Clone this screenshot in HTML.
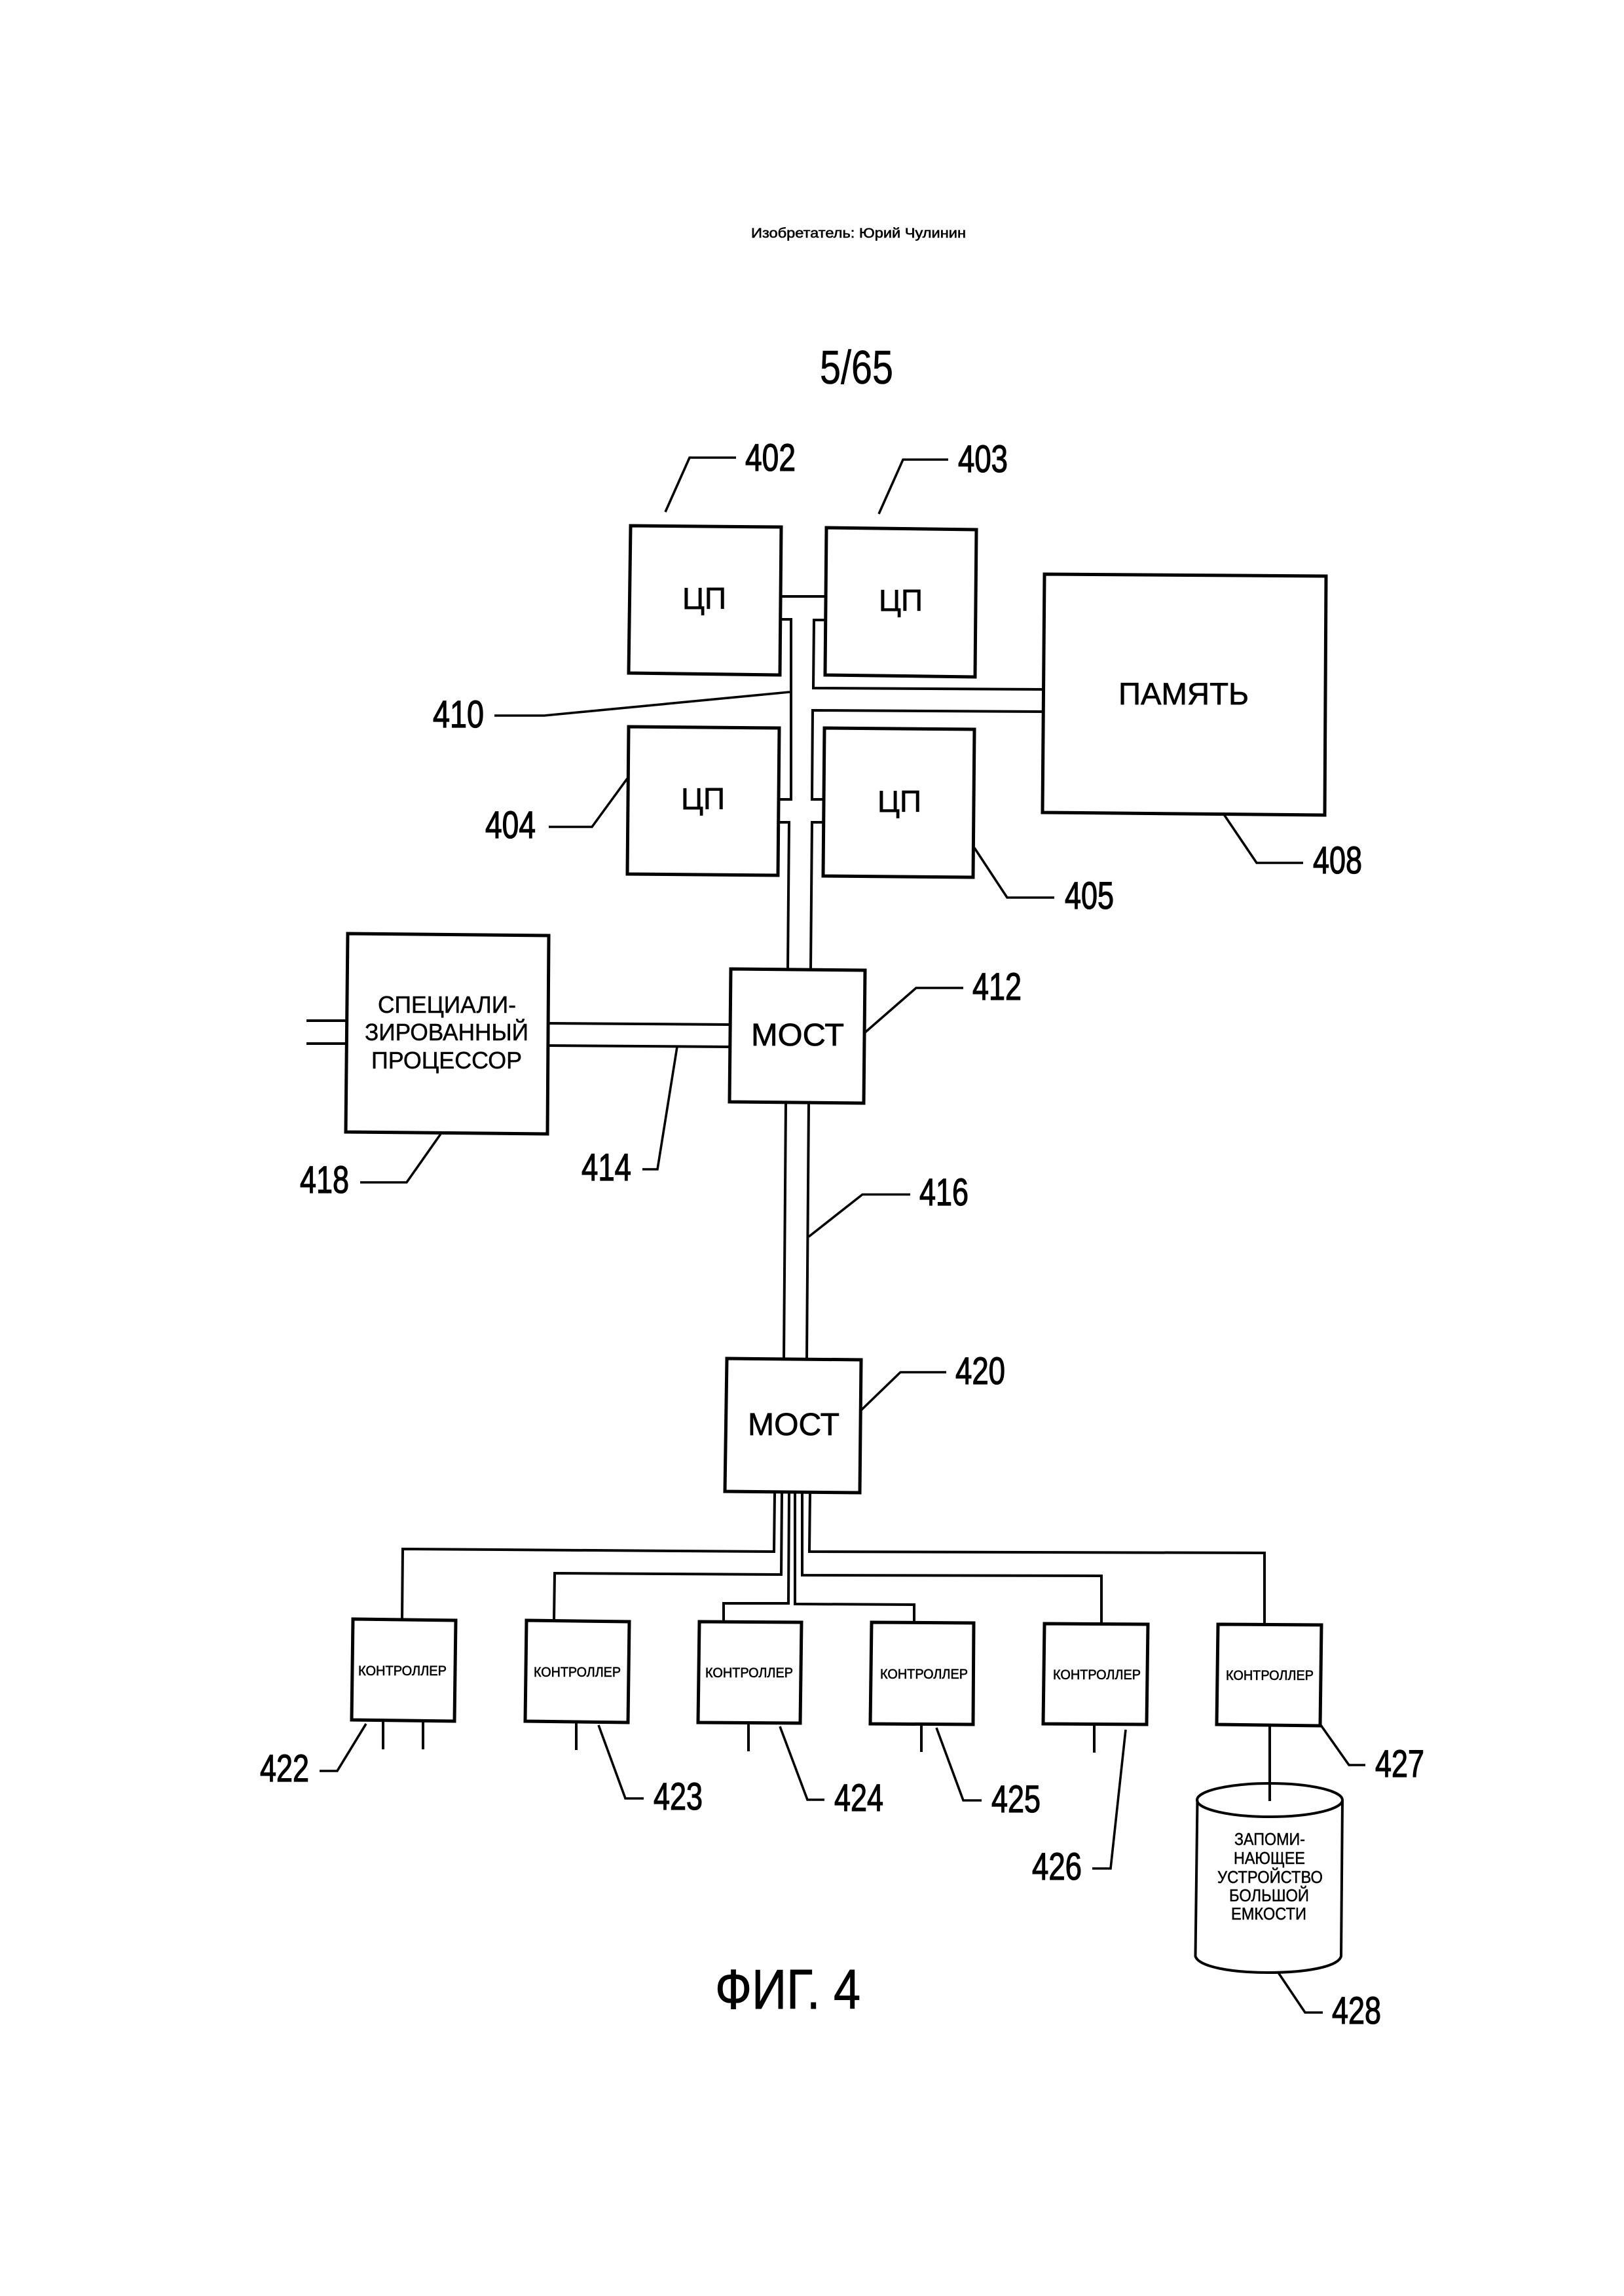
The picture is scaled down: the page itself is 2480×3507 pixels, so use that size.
<!DOCTYPE html>
<html><head><meta charset="utf-8"><style>
html,body{margin:0;padding:0;background:#fff}
svg{display:block}
text{font-family:"Liberation Sans",sans-serif;fill:#000;stroke:#000;stroke-width:.7}
.b{fill:none;stroke:#000;stroke-width:5;stroke-linejoin:miter}
.w{fill:none;stroke:#000;stroke-width:4;stroke-linejoin:miter}
.l{fill:none;stroke:#000;stroke-width:3.6}
.n{font-size:58px;stroke-width:1.3}
.c{font-size:21.5px;stroke-width:.6}
.d{font-size:25.5px;stroke-width:.5}
.s{font-size:36px;stroke-width:.5}
</style></head><body>
<svg width="2480" height="3507" viewBox="0 0 2480 3507" xmlns="http://www.w3.org/2000/svg">
<rect width="2480" height="3507" fill="#fff"/>
<text x="1147" y="363" font-size="21" textLength="328" lengthAdjust="spacingAndGlyphs" style="stroke-width:.6">Изобретатель: Юрий Чулинин</text>
<text x="1252" y="586" font-size="72" textLength="112" lengthAdjust="spacingAndGlyphs" style="stroke-width:.6">5/65</text>

<!-- boxes -->
<polygon class="b" points="963,803 1193,805 1191,1031 960,1028"/>
<polygon class="b" points="1262,806 1491,809 1489,1034 1260,1031"/>
<polygon class="b" points="960,1110 1190,1112 1188,1337 958,1335"/>
<polygon class="b" points="1259,1112 1488,1114 1486,1340 1257,1338"/>
<polygon class="b" points="1595,877 2025,880 2023,1245 1592,1241"/>
<polygon class="b" points="531,1426 838,1429 836,1732 528,1729"/>
<polygon class="b" points="1116,1480 1321,1482 1319,1685 1114,1683"/>
<polygon class="b" points="1110,2075 1315,2077 1313,2280 1107,2278"/>
<polygon class="b" points="539,2473 696,2475 694,2629 537,2627"/>
<polygon class="b" points="804,2475 961,2477 959,2631 802,2629"/>
<polygon class="b" points="1068,2477 1224,2478 1222,2632 1066,2631"/>
<polygon class="b" points="1331,2478 1487,2479 1486,2634 1329,2633"/>
<polygon class="b" points="1595,2480 1753,2481 1751,2634 1593,2633"/>
<polygon class="b" points="1860,2481 2018,2482 2016,2636 1858,2634"/>

<!-- CPU / memory wiring -->
<path class="w" d="M1192,911 H1260"/>
<path class="w" d="M1192,946 H1208 V1221 H1189"/>
<path class="w" d="M1260,947 H1243 L1242,1051 L1593,1053"/>
<path class="w" d="M1593,1087 L1241,1085 L1240,1221 H1257"/>
<path class="w" d="M1189,1256 H1205 L1203,1481"/>
<path class="w" d="M1257,1256 H1240 L1238,1481"/>
<!-- bridge wiring -->
<path class="w" d="M837,1563 L1115,1565"/>
<path class="w" d="M837,1597 L1115,1599"/>
<path class="w" d="M468,1559 H529"/>
<path class="w" d="M468,1594 H529"/>
<path class="w" d="M1200,1684 L1197,2076"/>
<path class="w" d="M1235,1684 L1232,2076"/>
<!-- bottom bus -->
<path class="w" d="M1183,2280 L1182,2370 L615,2366 L614,2474"/>
<path class="w" d="M1194,2280 L1193,2405 L847,2403 L846,2475"/>
<path class="w" d="M1205,2280 L1204,2449 L1105,2449 V2477"/>
<path class="w" d="M1214,2280 V2450 L1396,2451 V2478"/>
<path class="w" d="M1225,2280 V2406 L1682,2407 V2480"/>
<path class="w" d="M1237,2280 L1236,2370 L1931,2372 V2481"/>
<!-- stubs -->
<path class="w" d="M585,2628 V2672 M646,2628 V2672 M880,2630 V2673 M1143,2631 V2675 M1407,2633 V2676 M1671,2633 V2677 M1939,2635 V2751"/>
<!-- cylinder -->
<ellipse class="w" cx="1939" cy="2749.5" rx="111" ry="25.5"/>
<path class="w" d="M1828.5,2750 L1825.5,2988 C1830,3004 1880,3013 1937,3013 C1995,3013 2044,3004 2048,2988 L2050,2750"/>

<!-- leaders -->
<path class="l" d="M1016,782 L1053,699 H1124"/>
<path class="l" d="M1342,785 L1379,702 H1448"/>
<path class="l" d="M755,1093 H831 L1206,1057"/>
<path class="l" d="M958,1189 L904,1263 H838"/>
<path class="l" d="M1869,1244 L1919,1318 H1990"/>
<path class="l" d="M1488,1295 L1538,1371 H1610"/>
<path class="l" d="M1321,1577 L1399,1509 H1471"/>
<path class="l" d="M1034,1599 L1004,1786 H981"/>
<path class="l" d="M673,1732 L621,1806 H550"/>
<path class="l" d="M1235,1889 L1317,1824.5 H1390"/>
<path class="l" d="M1315,2154 L1375,2096 H1445"/>
<path class="l" d="M559,2633 L515,2705 H488"/>
<path class="l" d="M914,2635 L955,2747 H983"/>
<path class="l" d="M1191,2637 L1233,2749 H1259"/>
<path class="l" d="M1430,2639 L1471,2750 H1499"/>
<path class="l" d="M1719,2642 L1696,2854 H1668"/>
<path class="l" d="M2017,2635 L2060,2696 H2085"/>
<path class="l" d="M1952,3013 L1993,3074 H2020"/>

<!-- labels in boxes -->
<text x="1042" y="930" font-size="46" textLength="67" lengthAdjust="spacingAndGlyphs">ЦП</text>
<text x="1342" y="933" font-size="46" textLength="67" lengthAdjust="spacingAndGlyphs">ЦП</text>
<text x="1040" y="1236" font-size="46" textLength="67" lengthAdjust="spacingAndGlyphs">ЦП</text>
<text x="1340" y="1240" font-size="46" textLength="67" lengthAdjust="spacingAndGlyphs">ЦП</text>
<text x="1708" y="1076" font-size="47" textLength="199" lengthAdjust="spacingAndGlyphs">ПАМЯТЬ</text>
<text x="1147" y="1597" font-size="48" textLength="142" lengthAdjust="spacingAndGlyphs">МОСТ</text>
<text x="1142" y="2192" font-size="48" textLength="140" lengthAdjust="spacingAndGlyphs">МОСТ</text>
<text class="s" x="577" y="1547" textLength="211" lengthAdjust="spacingAndGlyphs">СПЕЦИАЛИ-</text>
<text class="s" x="557" y="1589" textLength="250" lengthAdjust="spacingAndGlyphs">ЗИРОВАННЫЙ</text>
<text class="s" x="567" y="1632" textLength="230" lengthAdjust="spacingAndGlyphs">ПРОЦЕССОР</text>
<text class="c" x="547" y="2559" textLength="135" lengthAdjust="spacingAndGlyphs">КОНТРОЛЛЕР</text>
<text class="c" x="815" y="2561" textLength="133" lengthAdjust="spacingAndGlyphs">КОНТРОЛЛЕР</text>
<text class="c" x="1077" y="2562" textLength="134" lengthAdjust="spacingAndGlyphs">КОНТРОЛЛЕР</text>
<text class="c" x="1344" y="2564" textLength="134" lengthAdjust="spacingAndGlyphs">КОНТРОЛЛЕР</text>
<text class="c" x="1608" y="2565" textLength="134" lengthAdjust="spacingAndGlyphs">КОНТРОЛЛЕР</text>
<text class="c" x="1872" y="2566" textLength="134" lengthAdjust="spacingAndGlyphs">КОНТРОЛЛЕР</text>
<text class="d" x="1885" y="2818" textLength="108" lengthAdjust="spacingAndGlyphs">ЗАПОМИ-</text>
<text class="d" x="1884" y="2847" textLength="109" lengthAdjust="spacingAndGlyphs">НАЮЩЕЕ</text>
<text class="d" x="1859" y="2876" textLength="161" lengthAdjust="spacingAndGlyphs">УСТРОЙСТВО</text>
<text class="d" x="1877" y="2904" textLength="122" lengthAdjust="spacingAndGlyphs">БОЛЬШОЙ</text>
<text class="d" x="1880" y="2932" textLength="115" lengthAdjust="spacingAndGlyphs">ЕМКОСТИ</text>

<!-- reference numbers -->
<text class="n" x="1138" y="719" textLength="77" lengthAdjust="spacingAndGlyphs">402</text>
<text class="n" x="1463" y="721" textLength="76" lengthAdjust="spacingAndGlyphs">403</text>
<text class="n" x="661" y="1111" textLength="78" lengthAdjust="spacingAndGlyphs">410</text>
<text class="n" x="741" y="1280" textLength="77" lengthAdjust="spacingAndGlyphs">404</text>
<text class="n" x="2005" y="1334" textLength="75" lengthAdjust="spacingAndGlyphs">408</text>
<text class="n" x="1626" y="1388" textLength="75" lengthAdjust="spacingAndGlyphs">405</text>
<text class="n" x="1485" y="1527" textLength="75" lengthAdjust="spacingAndGlyphs">412</text>
<text class="n" x="888" y="1803" textLength="76" lengthAdjust="spacingAndGlyphs">414</text>
<text class="n" x="458" y="1822" textLength="75" lengthAdjust="spacingAndGlyphs">418</text>
<text class="n" x="1404" y="1841" textLength="75" lengthAdjust="spacingAndGlyphs">416</text>
<text class="n" x="1459" y="2114" textLength="76" lengthAdjust="spacingAndGlyphs">420</text>
<text class="n" x="397" y="2721" textLength="75" lengthAdjust="spacingAndGlyphs">422</text>
<text class="n" x="998" y="2764" textLength="75" lengthAdjust="spacingAndGlyphs">423</text>
<text class="n" x="1274" y="2766" textLength="75" lengthAdjust="spacingAndGlyphs">424</text>
<text class="n" x="1514" y="2768" textLength="75" lengthAdjust="spacingAndGlyphs">425</text>
<text class="n" x="1576" y="2871" textLength="76" lengthAdjust="spacingAndGlyphs">426</text>
<text class="n" x="2100" y="2714" textLength="75" lengthAdjust="spacingAndGlyphs">427</text>
<text class="n" x="2034" y="3091" textLength="75" lengthAdjust="spacingAndGlyphs">428</text>

<text x="1092" y="3068" font-size="85" textLength="222" lengthAdjust="spacingAndGlyphs" style="stroke-width:1">ФИГ. 4</text>
</svg>
</body></html>
